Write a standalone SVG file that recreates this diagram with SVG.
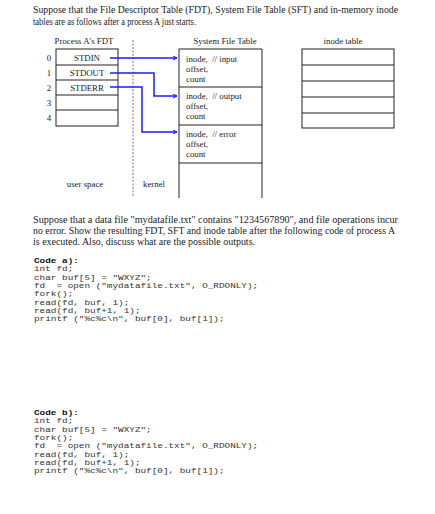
<svg xmlns="http://www.w3.org/2000/svg" width="435" height="514" viewBox="0 0 435 514">
<defs>
<style>
text{white-space:pre}
.p{font-family:"Liberation Serif",serif;font-size:9.8px;fill:#222}
.t{font-family:"Liberation Serif",serif;font-size:8.8px;fill:#222}
.m{font-family:"Liberation Mono",monospace;font-size:8px;fill:#333}
.mb{font-family:"Liberation Mono",monospace;font-size:8px;font-weight:bold;fill:#111}
.box{fill:#fff;stroke:#222;stroke-width:1}
.row{stroke:#222;stroke-width:1}
.arr{fill:none;stroke:#1a1aff;stroke-width:1.5;marker-end:url(#ah)}
</style>
<marker id="ah" viewBox="0 0 10 10" refX="9" refY="5" markerWidth="5" markerHeight="5" orient="auto" markerUnits="userSpaceOnUse">
<path d="M1,1 L9,5 L1,9" fill="none" stroke="#1a1aff" stroke-width="2"/>
</marker>
</defs>
<rect width="435" height="514" fill="#fff"/>
<text class="p" x="33" y="13" textLength="365" lengthAdjust="spacingAndGlyphs">Suppose that the File Descriptor Table (FDT), System File Table (SFT) and in-memory inode</text>
<text class="p" x="33" y="25" textLength="163" lengthAdjust="spacingAndGlyphs">tables are as follows after a process A just starts.</text>

<line x1="133" y1="40" x2="133" y2="196" stroke="#555" stroke-width="0.8" stroke-dasharray="2,1.5"/>

<g id="fdt">
<text class="t" x="84" y="44" text-anchor="middle">Process A's FDT</text>
<rect class="box" x="56" y="49" width="62" height="77"/>
<line class="row" x1="56" y1="65" x2="118" y2="65"/>
<line class="row" x1="56" y1="80" x2="118" y2="80"/>
<line class="row" x1="56" y1="95" x2="118" y2="95"/>
<line class="row" x1="56" y1="110" x2="118" y2="110"/>
<text class="t" x="87" y="61" text-anchor="middle">STDIN</text>
<text class="t" x="87" y="76" text-anchor="middle">STDOUT</text>
<text class="t" x="87" y="91" text-anchor="middle">STDERR</text>
<text class="t" x="49" y="61" text-anchor="middle">0</text>
<text class="t" x="49" y="76" text-anchor="middle">1</text>
<text class="t" x="49" y="91" text-anchor="middle">2</text>
<text class="t" x="49" y="106" text-anchor="middle">3</text>
<text class="t" x="49" y="121" text-anchor="middle">4</text>
</g>

<g id="sft">
<text class="t" x="225" y="44" text-anchor="middle">System File Table</text>
<path d="M179,198 L179,49 L262,49 L262,198" fill="#fff" stroke="#222" stroke-width="1"/>
<line class="row" x1="179" y1="87" x2="262" y2="87"/>
<line class="row" x1="179" y1="125" x2="262" y2="125"/>
<line class="row" x1="179" y1="163" x2="262" y2="163"/>
<text class="t" x="186" y="62">inode,  // input</text>
<text class="t" x="186" y="72">offset,</text>
<text class="t" x="186" y="82">count</text>
<text class="t" x="186" y="99">inode,  // output</text>
<text class="t" x="186" y="109">offset,</text>
<text class="t" x="186" y="119">count</text>
<text class="t" x="186" y="137">inode,  // error</text>
<text class="t" x="186" y="147">offset,</text>
<text class="t" x="186" y="157">count</text>
</g>

<g id="inode">
<text class="t" x="343" y="44" text-anchor="middle">inode table</text>
<rect class="box" x="302" y="49" width="92" height="79"/>
<line class="row" x1="302" y1="65" x2="394" y2="65"/>
<line class="row" x1="302" y1="81" x2="394" y2="81"/>
<line class="row" x1="302" y1="97" x2="394" y2="97"/>
<line class="row" x1="302" y1="113" x2="394" y2="113"/>
</g>

<g id="connectors">
<path class="arr" d="M110,58 L177,58"/>
<path class="arr" d="M110,73 L154,73 L154,96 L177,96"/>
<path class="arr" d="M110,87 L142,87 L142,132 L177,132"/>
</g>

<text class="t" x="85" y="187" text-anchor="middle">user space</text>
<text class="t" x="154" y="187" text-anchor="middle">kernel</text>

<text class="p" x="33" y="223" textLength="365" lengthAdjust="spacingAndGlyphs">Suppose that a data file "mydatafile.txt" contains "1234567890", and file operations incur</text>
<text class="p" x="33" y="234" textLength="362" lengthAdjust="spacingAndGlyphs">no error. Show the resulting FDT, SFT and inode table after the following code of process A</text>
<text class="p" x="33" y="245" textLength="222" lengthAdjust="spacingAndGlyphs">is executed. Also, discuss what are the possible outputs.</text>

<g transform="translate(34,0) scale(1.17,1)">
<text class="mb" x="0" y="263">Code a):</text>
<text class="m" x="0" y="271">int fd;</text>
<text class="m" x="0" y="280">char buf[5] = "WXYZ";</text>
<text class="m" x="0" y="288">fd  = open ("mydatafile.txt", O_RDONLY);</text>
<text class="m" x="0" y="296">fork();</text>
<text class="m" x="0" y="305">read(fd, buf, 1);</text>
<text class="m" x="0" y="313">read(fd, buf+1, 1);</text>
<text class="m" x="0" y="321">printf ("%c%c\n", buf[0], buf[1]);</text>

<text class="mb" x="0" y="415">Code b):</text>
<text class="m" x="0" y="423">int fd;</text>
<text class="m" x="0" y="432">char buf[5] = "WXYZ";</text>
<text class="m" x="0" y="440">fork();</text>
<text class="m" x="0" y="448">fd  = open ("mydatafile.txt", O_RDONLY);</text>
<text class="m" x="0" y="457">read(fd, buf, 1);</text>
<text class="m" x="0" y="465">read(fd, buf+1, 1);</text>
<text class="m" x="0" y="473">printf ("%c%c\n", buf[0], buf[1]);</text>
</g>
</svg>
